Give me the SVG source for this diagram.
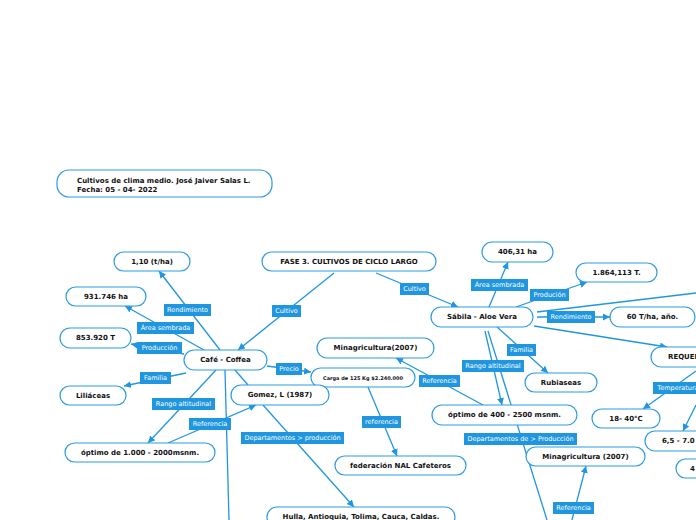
<svg xmlns="http://www.w3.org/2000/svg" width="696" height="520" viewBox="0 0 696 520">
<defs>
<marker id="ah" viewBox="0 0 10 10" refX="10" refY="5" markerWidth="7" markerHeight="7" orient="auto" markerUnits="userSpaceOnUse">
<path d="M0,0 L10,5 L0,10 z" fill="#2196e0"/>
</marker>
<style>
.n rect{fill:#fff;stroke:#2d9be3;stroke-width:1.2}
.n text{font-family:"DejaVu Sans",Verdana,sans-serif;font-size:7px;font-weight:bold;fill:#111;text-anchor:middle;dominant-baseline:central}
.c line,.c path{stroke:#2196e0;stroke-width:1.3;fill:none}
.a{marker-end:url(#ah)}
.l rect{fill:#2196e0}
.l text{font-family:"DejaVu Sans",Verdana,sans-serif;font-size:6.5px;fill:#fff;text-anchor:middle;dominant-baseline:central}
</style>
</defs>
<rect width="696" height="520" fill="#fff"/>

<g class="c" id="connectors">
<line class="a" x1="334" y1="273" x2="238" y2="350"/>
<line class="a" x1="376" y1="273" x2="458" y2="307"/>
<line class="a" x1="220" y1="350" x2="159" y2="271"/>
<line class="a" x1="204" y1="350" x2="125" y2="306"/>
<line class="a" x1="184" y1="354" x2="131" y2="344"/>
<line class="a" x1="186" y1="373" x2="124" y2="386"/>
<line class="a" x1="216" y1="370" x2="148" y2="443"/>
<line class="a" x1="168" y1="443" x2="256" y2="405"/>
<line x1="235" y1="370" x2="248" y2="385"/>
<line x1="225" y1="370" x2="229" y2="520"/>
<line class="a" x1="263" y1="405" x2="354" y2="507"/>
<line class="a" x1="267" y1="366" x2="311" y2="372"/>
<line class="a" x1="368" y1="387" x2="397" y2="456"/>
<line class="a" x1="483" y1="405" x2="396" y2="358"/>
<line class="a" x1="489" y1="307" x2="508" y2="262"/>
<line class="a" x1="516" y1="307" x2="587" y2="282"/>
<line class="a" x1="537" y1="317" x2="610" y2="317"/>
<line x1="537" y1="312" x2="696" y2="293"/>
<line class="a" x1="534" y1="326" x2="667" y2="347"/>
<line class="a" x1="497" y1="327" x2="548" y2="373"/>
<line class="a" x1="485" y1="331" x2="502" y2="405"/>
<line x1="488" y1="331" x2="547" y2="520"/>
<line class="a" x1="572" y1="520" x2="586" y2="466"/>
<line class="a" x1="696" y1="371" x2="643" y2="409"/>
<line class="a" x1="696" y1="405" x2="683" y2="431"/>
</g>

<g class="l" id="labels">
<g><rect x="164" y="304" width="47" height="12"/><text x="187.5" y="310">Rendimiento</text></g>
<g><rect x="137" y="322" width="57" height="12"/><text x="165.5" y="328">Área sembrada</text></g>
<g><rect x="137" y="342" width="45" height="12"/><text x="159.5" y="348">Producción</text></g>
<g><rect x="140" y="372" width="31" height="12"/><text x="155.5" y="378">Familia</text></g>
<g><rect x="272" y="305" width="29" height="12"/><text x="286.5" y="311">Cultivo</text></g>
<g><rect x="400" y="283" width="29" height="12"/><text x="414.5" y="289">Cultivo</text></g>
<g><rect x="276" y="363" width="26" height="12"/><text x="289" y="369">Precio</text></g>
<g><rect x="152" y="398" width="63" height="12"/><text x="183.5" y="404">Rango altitudinal</text></g>
<g><rect x="189" y="418" width="42" height="12"/><text x="210" y="424">Referencia</text></g>
<g><rect x="241" y="432" width="103" height="12"/><text x="292.5" y="438">Departamentos &gt; producción</text></g>
<g><rect x="362" y="416" width="39" height="12"/><text x="381.5" y="422">referencia</text></g>
<g><rect x="419" y="375" width="41" height="12"/><text x="439.5" y="381">Referencia</text></g>
<g><rect x="471" y="279" width="57" height="12"/><text x="499.5" y="285">Área sembrada</text></g>
<g><rect x="530" y="289" width="39" height="12"/><text x="549.5" y="295">Produción</text></g>
<g><rect x="547" y="311" width="48" height="12"/><text x="571" y="317">Rendimiento</text></g>
<g><rect x="507" y="344" width="29" height="12"/><text x="521.5" y="350">Familia</text></g>
<g><rect x="462" y="360" width="62" height="12"/><text x="493" y="366">Rango altitudinal</text></g>
<g><rect x="464" y="433" width="113" height="12"/><text x="520.5" y="439">Departamentos de &gt; Producción</text></g>
<g><rect x="653" y="382" width="50" height="12"/><text x="678" y="388">Temperatura</text></g>
<g><rect x="553" y="502" width="41" height="12"/><text x="573.5" y="508">Referencia</text></g>
</g>

<g class="n" id="title"><rect x="57" y="170" width="215" height="27" rx="12"/>
<text x="77" y="181" style="text-anchor:start">Cultivos de clima medio. José Jaiver Salas L.</text>
<text x="77" y="190" style="text-anchor:start">Fecha: 05 - 04- 2022</text></g>
<g class="n" id="n-110"><rect x="114" y="252" width="76" height="19" rx="9.5"/><text x="152" y="261.5">1,10 (t/ha)</text></g>
<g class="n" id="n-fase"><rect x="262" y="252" width="174" height="19" rx="9.5"/><text x="349" y="261.5">FASE 3. CULTIVOS DE CICLO LARGO</text></g>
<g class="n" id="n-406"><rect x="482" y="242" width="71" height="20" rx="10"/><text x="517.5" y="252">406,31 ha</text></g>
<g class="n" id="n-1864"><rect x="576" y="263" width="81" height="19" rx="9.5"/><text x="616.5" y="272.5">1.864,113 T.</text></g>
<g class="n" id="n-931"><rect x="66" y="287" width="80" height="19" rx="9.5"/><text x="106" y="296.5">931.746  ha</text></g>
<g class="n" id="n-853"><rect x="60" y="328" width="71" height="20" rx="10"/><text x="95.5" y="338">853.920 T</text></g>
<g class="n" id="n-sabila"><rect x="431" y="307" width="102" height="20" rx="10"/><text x="482" y="317">Sábila - Aloe Vera</text></g>
<g class="n" id="n-60"><rect x="610" y="307" width="85" height="20" rx="10"/><text x="652.5" y="317">60 T/ha, año.</text></g>
<g class="n" id="n-mina1"><rect x="317" y="338" width="117" height="20" rx="10"/><text x="375.5" y="348">Minagricultura(2007)</text></g>
<g class="n" id="n-cafe"><rect x="184" y="350" width="83" height="20" rx="10"/><text x="225.5" y="360">Café - Coffea</text></g>
<g class="n" id="n-req"><rect x="651" y="347" width="80" height="20" rx="10"/><text x="668" y="357" style="text-anchor:start">REQUERIMIENTOS</text></g>
<g class="n" id="n-carga"><rect x="311" y="368" width="104" height="19" rx="9.5"/><text x="363" y="377.5" style="font-size:5px">Carga de 125 Kg $2.240.000</text></g>
<g class="n" id="n-rubia"><rect x="525" y="373" width="72" height="19" rx="9.5"/><text x="561" y="382.5">Rubiaseas</text></g>
<g class="n" id="n-lili"><rect x="60" y="386" width="66" height="19" rx="9.5"/><text x="93" y="395.5">Liliáceas</text></g>
<g class="n" id="n-gomez"><rect x="231" y="385" width="98" height="20" rx="10"/><text x="280" y="395">Gomez, L (1987)</text></g>
<g class="n" id="n-opt400"><rect x="432" y="405" width="145" height="20" rx="10"/><text x="504.5" y="415">óptimo de 400 - 2500 msnm.</text></g>
<g class="n" id="n-temp"><rect x="592" y="409" width="68" height="19" rx="9.5"/><text x="626" y="418.5">18- 40°C</text></g>
<g class="n" id="n-ph"><rect x="645" y="431" width="80" height="20" rx="10"/><text x="662" y="441" style="text-anchor:start">6,5 - 7.0</text></g>
<g class="n" id="n-opt1000"><rect x="65" y="443" width="150" height="19" rx="9.5"/><text x="140" y="452.5">óptimo de 1.000 - 2000msnm.</text></g>
<g class="n" id="n-mina2"><rect x="526" y="447" width="119" height="19" rx="9.5"/><text x="585.5" y="456.5">Minagricultura (2007)</text></g>
<g class="n" id="n-4"><rect x="676" y="459" width="60" height="19" rx="9.5"/><text x="690" y="468.5" style="text-anchor:start">4</text></g>
<g class="n" id="n-fed"><rect x="335" y="456" width="131" height="19" rx="9.5"/><text x="400.5" y="465.5">federación NAL Cafeteros</text></g>
<g class="n" id="n-hulla"><rect x="267" y="507" width="188" height="20" rx="10"/><text x="361" y="517">Hulla, Antioquia, Tolima, Cauca, Caldas.</text></g>
</svg>
